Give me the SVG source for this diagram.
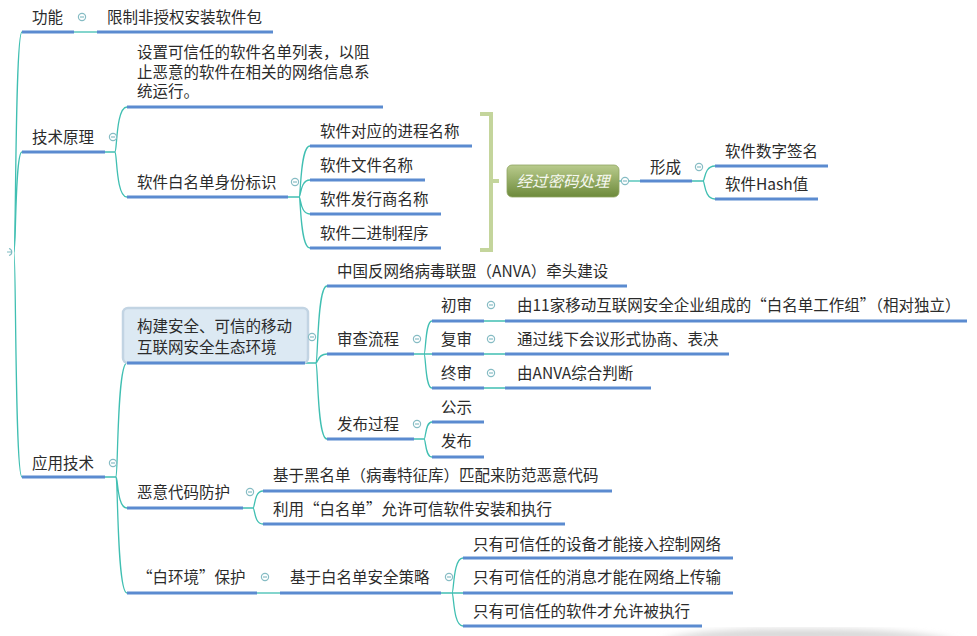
<svg xmlns="http://www.w3.org/2000/svg" xmlns:xlink="http://www.w3.org/1999/xlink" width="977" height="636" viewBox="0 0 977 636">
<style>
.t{font-family:"Noto Sans CJK SC","Liberation Sans",sans-serif;font-size:15.5px;fill:#2b2b2b}
.u{stroke:#5b8bd0;stroke-width:3;fill:none}
.c{stroke:#40bfb2;stroke-width:1.3;fill:none}
.cm circle{fill:#fff;stroke:#86bcc4;stroke-width:1.2}
.cm line{stroke:#86bcc4;stroke-width:1.2}
</style>
<defs>
<g id="minus" class="cm"><circle r="3.6"/><line x1="-2" y1="0" x2="2" y2="0"/></g>
<linearGradient id="gg" x1="0" y1="0" x2="0" y2="1">
<stop offset="0" stop-color="#b9cb8d"/><stop offset="1" stop-color="#6d8a3b"/>
</linearGradient>
<filter id="blur"><feGaussianBlur stdDeviation="3"/></filter>
</defs>
<rect width="977" height="636" fill="#fff"/>
<path d="M660 640 Q700 628 800 629 Q900 628 960 640 Z" fill="#d8d8d8" filter="url(#blur)"/>

<g id="connectors">
<path class="c" d="M14 252 C16 252 15 32 22 32"/>
<path class="c" d="M14 252 C16 252 15 152 22 152"/>
<path class="c" d="M14 252 C16 252 15 477 22 477"/>
<path class="c" d="M74 32 H97"/>
<path class="c" d="M105 152 H115 M115 152 C117 152 116 107 127 107 M115 152 C117 152 116 197 127 197"/>
<path class="c" d="M288 197 H299 M299 197 C301 197 300 146 310 146 M299 197 C301 197 300 180 310 180 M299 197 C301 197 300 214 310 214 M299 197 C301 197 300 248 310 248"/>
<path class="c" d="M619 181 H640"/>
<path class="c" d="M692 181 H703 M703 181 C705 181 704 166 715 166 M703 181 C705 181 704 199 715 199"/>
<path class="c" d="M105 477 H116 M116 477 C118 477 117 363 127 363 M116 477 C118 477 117 508 127 508 M116 477 C118 477 117 593 127 593"/>
<path class="c" d="M305 363 H316 M316 363 C318 363 317 286 327 286 M316 363 C318 363 317 354 327 354 M316 363 C318 363 317 439 327 439"/>
<path class="c" d="M414 354 H424 M424 354 C426 354 425 321 432 321 M424 354 H432 M424 354 C426 354 425 388 432 388"/>
<path class="c" d="M484 321 H505 M484 354 H505 M484 388 H505"/>
<path class="c" d="M414 439 H424 M424 439 C426 439 425 422 432 422 M424 439 C426 439 425 457 432 457"/>
<path class="c" d="M243 508 H253 M253 508 C255 508 254 491 263 491 M253 508 C255 508 254 524 263 524"/>
<path class="c" d="M257 593 H280"/>
<path class="c" d="M441 593 H452 M452 593 C454 593 453 558 463 558 M452 593 H463 M452 593 C454 593 453 626 463 626"/>
</g>

<g id="root"><path d="M9 248.5 A3.6 3.6 0 0 1 9 255.5 M7 252 H12" fill="none" stroke="#7fbcc2" stroke-width="1.2"/></g>

<g id="n-gongneng"><text class="t" x="32" y="22.5">功能</text><path class="u" d="M22 32 H74"/><use href="#minus" x="82" y="17"/></g>
<g id="n-xianzhi"><text class="t" x="107" y="22.5">限制非授权安装软件包</text><path class="u" d="M97 32 H273"/></g>

<g id="n-jishu"><text class="t" x="32" y="142.5">技术原理</text><path class="u" d="M22 152 H105"/><use href="#minus" x="113" y="137"/></g>
<g id="n-shezhi"><text class="t" x="137" y="57.5">设置可信任的软件名单列表，以阻</text><text class="t" x="137" y="77.5">止恶意的软件在相关的网络信息系</text><text class="t" x="137" y="96.5">统运行。</text><path class="u" d="M127 107 H383"/></g>
<g id="n-baimingdan"><text class="t" x="137" y="187.5">软件白名单身份标识</text><path class="u" d="M127 197 H288"/><use href="#minus" x="295" y="182"/></g>
<g id="n-jincheng"><text class="t" x="320" y="137">软件对应的进程名称</text><path class="u" d="M310 146 H472"/></g>
<g id="n-wenjian"><text class="t" x="320" y="171">软件文件名称</text><path class="u" d="M310 180 H425"/></g>
<g id="n-faxing"><text class="t" x="320" y="205">软件发行商名称</text><path class="u" d="M310 214 H441"/></g>
<g id="n-erjinzhi"><text class="t" x="320" y="239">软件二进制程序</text><path class="u" d="M310 248 H441"/></g>

<g id="bracket"><path d="M480 114 H491 V250 H480 M491 181 H499" fill="none" stroke="#c4d59c" stroke-width="4"/></g>
<g id="n-mima"><rect x="507" y="165" width="112" height="32" rx="5" fill="url(#gg)" stroke="#8fa562" stroke-width="0.8"/><text class="t" x="563" y="186.5" text-anchor="middle" font-style="italic" style="fill:#f6f8f0">经过密码处理</text><use href="#minus" x="625" y="181"/></g>
<g id="n-xingcheng"><text class="t" x="650" y="173">形成</text><path class="u" d="M640 181 H692"/><use href="#minus" x="699" y="167"/></g>
<g id="n-qianming"><text class="t" x="725" y="157">软件数字签名</text><path class="u" d="M715 166 H828"/></g>
<g id="n-hash"><text class="t" x="725" y="189.5">软件Hash值</text><path class="u" d="M715 199 H818"/></g>

<g id="n-yingyong"><text class="t" x="32" y="468.5">应用技术</text><path class="u" d="M22 477 H105"/><use href="#minus" x="113" y="463"/></g>
<g id="n-goujian"><rect x="123" y="308" width="185" height="55" rx="5" fill="#dce9f3" stroke="#c2d4e3" stroke-width="2.5"/><text class="t" x="137" y="332">构建安全、可信的移动</text><text class="t" x="137" y="353">互联网安全生态环境</text><path class="u" d="M127 363 H305"/><use href="#minus" x="312" y="337"/></g>
<g id="n-anva"><text class="t" x="337" y="277">中国反网络病毒联盟（ANVA）牵头建设</text><path class="u" d="M327 286 H627"/></g>
<g id="n-shencha"><text class="t" x="337" y="345">审查流程</text><path class="u" d="M327 354 H414"/><use href="#minus" x="417" y="339"/></g>
<g id="n-chushen"><text class="t" x="441" y="310.5">初审</text><path class="u" d="M432 321 H484"/><use href="#minus" x="491" y="305"/></g>
<g id="n-fushen"><text class="t" x="441" y="345">复审</text><path class="u" d="M432 354 H484"/><use href="#minus" x="491" y="339"/></g>
<g id="n-zhongshen"><text class="t" x="441" y="379">终审</text><path class="u" d="M432 388 H484"/><use href="#minus" x="491" y="373"/></g>
<g id="n-chushen-d"><text class="t" x="517" y="310.5">由11家移动互联网安全企业组成的“白名单工作组”（相对独立）</text><path class="u" d="M505 321 H967"/></g>
<g id="n-fushen-d"><text class="t" x="517" y="345">通过线下会议形式协商、表决</text><path class="u" d="M505 354 H729"/></g>
<g id="n-zhongshen-d"><text class="t" x="517" y="379">由ANVA综合判断</text><path class="u" d="M505 388 H651"/></g>
<g id="n-fabuguocheng"><text class="t" x="337" y="430">发布过程</text><path class="u" d="M327 439 H414"/><use href="#minus" x="417" y="424"/></g>
<g id="n-gongshi"><text class="t" x="441" y="413">公示</text><path class="u" d="M432 422 H484"/></g>
<g id="n-fabu"><text class="t" x="441" y="447">发布</text><path class="u" d="M432 457 H484"/></g>
<g id="n-eyi"><text class="t" x="137" y="498">恶意代码防护</text><path class="u" d="M127 508 H243"/><use href="#minus" x="250" y="492"/></g>
<g id="n-heimingdan"><text class="t" x="273" y="481">基于黑名单（病毒特征库）匹配来防范恶意代码</text><path class="u" d="M263 491 H612"/></g>
<g id="n-liyong"><text class="t" x="273" y="515">利用“白名单”允许可信软件安装和执行</text><path class="u" d="M263 524 H565"/></g>
<g id="n-baihuanjing"><text class="t" x="137" y="582.5">“白环境”保护</text><path class="u" d="M127 593 H257"/><use href="#minus" x="265" y="577"/></g>
<g id="n-celue"><text class="t" x="290" y="582.5">基于白名单安全策略</text><path class="u" d="M280 593 H441"/><use href="#minus" x="449" y="577"/></g>
<g id="n-shebei"><text class="t" x="473" y="549.5">只有可信任的设备才能接入控制网络</text><path class="u" d="M463 558 H733"/></g>
<g id="n-xiaoxi"><text class="t" x="473" y="583">只有可信任的消息才能在网络上传输</text><path class="u" d="M463 593 H733"/></g>
<g id="n-ruanjian"><text class="t" x="473" y="616.5">只有可信任的软件才允许被执行</text><path class="u" d="M463 626 H702"/></g>
</svg>
